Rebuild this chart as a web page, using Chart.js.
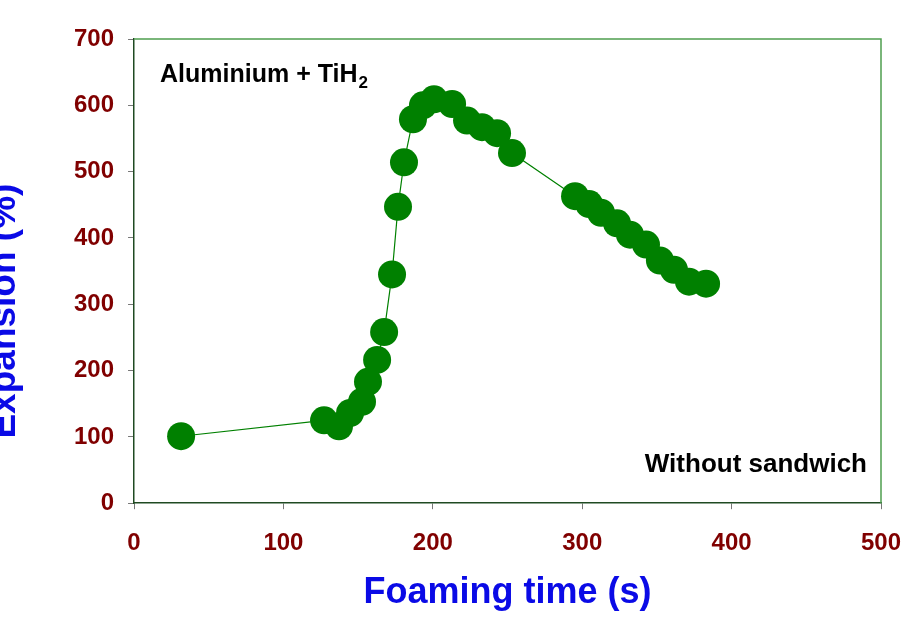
<!DOCTYPE html>
<html>
<head>
<meta charset="utf-8">
<script src="https://cdn.jsdelivr.net/npm/chart.js@4"></script>
<style>
html,body{margin:0;padding:0;background:#fff;overflow:hidden;width:911px;height:621px;}
canvas{display:block;}
</style>
</head>
<body>
<canvas id="c" width="911" height="621"></canvas>
<script>
const foamingTime = [31.5,127.2,137.2,144.6,152.6,156.6,162.7,167.4,172.7,176.7,180.7,186.7,193.4,200.8,212.9,222.9,232.9,243,253,295.2,304.6,312.6,323.3,332,342.7,352,361.4,371.5,382.9];
const expansion   = [101,125,116,136,153,183,216,258,345,447,514,579,600,609,602,577,567,558,528,463,451,438,422,405,390,366,352,334,331];
const xTicks = [0,100,200,300,400,500];
const yTicks = [0,100,200,300,400,500,600,700];
const xTitle = 'Foaming time (s)';
const yTitle = 'Expansion (%)';
const note1 = 'Aluminium + TiH';
const note1Sub = '2';
const note2 = 'Without sandwich';

const FONT = "'Liberation Sans', Arial, sans-serif";

const framePlugin = {
  id: 'frame',
  afterDraw(chart) {
    const {ctx, chartArea: a} = chart;
    ctx.save();
    ctx.strokeStyle = '#4f9f4f';
    ctx.lineWidth = 1.5;
    ctx.beginPath();
    ctx.moveTo(a.left, a.top);
    ctx.lineTo(a.right, a.top);
    ctx.lineTo(a.right, a.bottom);
    ctx.stroke();
    // annotations
    ctx.fillStyle = '#000';
    ctx.textBaseline = 'alphabetic';
    ctx.font = "bold 25px " + FONT;
    ctx.textAlign = 'left';
    const x1 = a.left + 26, y1 = a.top + 43;
    ctx.fillText(note1, x1, y1);
    const w = ctx.measureText(note1).width;
    ctx.font = "bold 17px " + FONT;
    ctx.fillText(note1Sub, x1 + w + 1, y1 + 6);
    ctx.font = "bold 26px " + FONT;
    ctx.textAlign = 'right';
    ctx.fillText(note2, a.right - 14, a.bottom - 31);
    // y axis title (partly cut at the left edge, as in the reference)
    ctx.save();
    ctx.translate(15, a.top + (a.bottom - a.top) * 0.5 + 40);
    ctx.rotate(-Math.PI / 2);
    ctx.font = "bold 37px " + FONT;
    ctx.fillStyle = '#0a0ae6';
    ctx.textAlign = 'center';
    ctx.textBaseline = 'alphabetic';
    ctx.fillText(yTitle, 0, 0);
    ctx.restore();
    ctx.restore();
  }
};

new Chart(document.getElementById('c'), {
  type: 'scatter',
  data: {
    datasets: [{
      data: foamingTime.map((x, i) => ({x: x, y: expansion[i]})),
      showLine: true,
      borderColor: '#008000',
      borderWidth: 1.2,
      backgroundColor: '#008000',
      pointBackgroundColor: '#008000',
      pointBorderWidth: 0,
      pointRadius: 14,
      pointHoverRadius: 14,
      tension: 0
    }]
  },
  options: {
    responsive: false,
    animation: false,
    devicePixelRatio: 1,
    layout: {padding: {top: 39, right: 30, bottom: 10, left: 60}},
    plugins: {legend: {display: false}, tooltip: {enabled: false}},
    scales: {
      x: {
        type: 'linear', min: 0, max: 500,
        afterBuildTicks: s => { s.ticks = xTicks.map(v => ({value: v})); },
        afterFit: s => { s.paddingRight = 0; },
        ticks: {color: '#800000', font: {family: FONT, size: 24, weight: 'bold'}, padding: 20},
        grid: {drawOnChartArea: false, drawTicks: true, tickLength: 6, tickColor: '#777'},
        border: {color: '#1f4a22', width: 1.5},
        title: {display: true, text: xTitle, color: '#0a0ae6', font: {family: FONT, size: 36, weight: 'bold', lineHeight: 1}, padding: {top: -3, bottom: 0}}
      },
      y: {
        type: 'linear', min: 0, max: 700,
        afterBuildTicks: s => { s.ticks = yTicks.map(v => ({value: v})); },
        ticks: {color: '#800000', font: {family: FONT, size: 24, weight: 'bold'}, padding: 14},
        grid: {drawOnChartArea: false, drawTicks: true, tickLength: 6, tickColor: '#777'},
        border: {color: '#1f4a22', width: 1.5}
      }
    }
  },
  plugins: [framePlugin]
});
</script>
</body>
</html>
